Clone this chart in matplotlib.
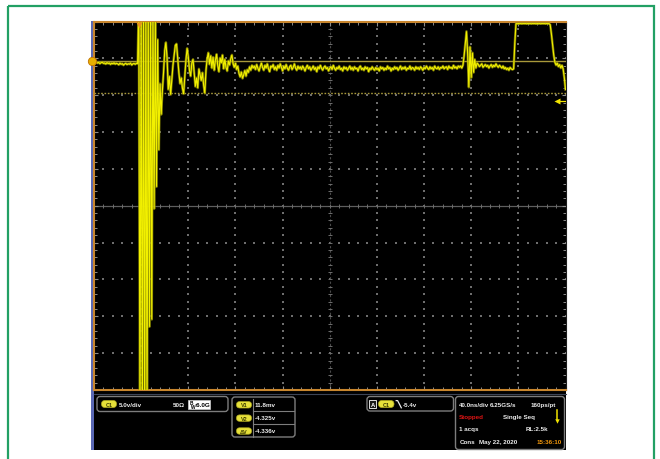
import numpy as np
import matplotlib
matplotlib.use("Agg")
import matplotlib.pyplot as plt
from matplotlib.patches import Rectangle, FancyBboxPatch

# ---------------- data ----------------
dt_ns = 1.0            # resampled trace step, ns
ns_per_div = 40.0
v_per_div = 5.0
v_top = 5.43           # screen top in volts (ground 1.09 div below top)

pre_trigger = [-0.10, -0.18, -0.05, -0.22, -0.12, -0.30, -0.15, -0.08, -0.26, -0.20,
               -0.35, -0.14, -0.28, -0.19, -0.40, -0.22, -0.31, -0.17, -0.36, -0.24,
               -0.30, -0.45, -0.21, -0.38, -0.27, -0.50, -0.33, -0.24, -0.42, -0.29,
               -0.37, -0.20, -0.48, -0.31, -0.26, -0.39, -0.22, -0.30]
burst = [8, -50, 8, -50, 8, -50, 8, -50, 8, -36, 8, -35, 7, -20, 6, -17, 3, -12]
ringing = [-3.0, -7.2, -4.0, -1.5, 1.5, 2.6, 0.5, -3.8, -2.0, -4.5,
           -2.5, -0.5, 0.8, 2.2, 2.4, 0.5, -1.5, -3.0, -2.2, -3.6,
           -4.4, -2.0, 0.2, 1.8, 0.6, -1.2, -2.0, -0.2, 0.3, -1.5,
           -3.4, -2.2, -3.6, -1.0, -1.8, -2.6, -1.5, -3.2, -4.3, -1.2,
           0.4, 1.2, -0.4, 0.8, -0.9, 0.6, -1.2, 0.2, 1.0, -0.6,
           -1.4, 0.5, -0.2, 0.9, -1.0, 0.3, -0.8, -1.3, 0.1, -0.5,
           0.4, 0.9, -0.3, -0.8, -0.2, -1.1, -0.6, -1.6, -2.1, -1.4,
           -2.3, -1.8, -1.2, -2.0, -1.1, -1.5, -0.7, -1.2, -0.5, -0.9]
settle = [-0.6, -1.1, -0.4, -0.9, -1.3, -0.7, -0.2, -0.8, -1.2, -0.5, -0.9, -0.3, -1.0, -1.4, -0.6, -0.8, -0.4, -1.1, -0.7, -1.2,
          -0.5, -0.9, -0.3, -0.8, -1.3, -0.6, -1.0, -0.4, -0.9, -1.2, -0.7, -0.5, -1.1, -0.8, -0.3, -0.9, -1.2, -0.6, -1.0, -0.7,
          -1.1, -0.6, -0.9, -1.3, -0.8, -0.5, -1.0, -0.7, -1.2, -0.9, -0.6, -1.1, -0.8, -1.4, -0.7, -1.0, -0.5, -0.9, -1.2, -0.8,
          -0.6, -1.0, -0.8, -1.3, -0.9, -0.7, -1.1, -0.5, -0.9, -1.2, -0.8, -1.0, -0.6, -1.1, -0.9, -1.3, -0.7, -1.0, -0.8, -1.2,
          -0.9, -0.6, -1.1, -0.8, -1.2, -0.7, -1.0, -0.9, -1.3, -0.8, -0.6, -1.1, -0.9, -1.2, -0.7, -1.0, -0.8, -1.4, -0.9, -1.1,
          -0.7, -1.0, -1.2, -0.8, -1.1, -0.9, -1.3, -0.7, -1.0, -0.8, -1.2, -0.9, -1.1, -0.6, -1.0, -0.8, -1.3, -0.9, -1.1, -0.7,
          -1.0, -0.8, -1.2, -0.9, -0.6, -1.1, -0.8, -1.0, -0.7, -1.2, -0.9, -1.0, -0.6, -1.1, -0.8, -0.9, -1.2, -0.7, -1.0, -0.8,
          -1.1, -0.7, -0.9, -1.2, -0.8, -1.0, -0.6, -0.9, -1.1, -0.7, -1.0, -0.8, -1.2, -0.6, -0.9, -1.0, -0.7, -1.1, -0.8, -0.9,
          -0.6, -1.0, -0.8, -0.7, -1.1, -0.6, -0.9, -0.8, -1.0, -0.5, -0.9, -0.7, -1.0, -0.6, -0.8]
glitch = [-0.6, -0.9, -0.5, 0.8, 2.5, 4.1, 1.0, -3.5, 2.0, -2.2, 1.2, -1.5, 0.3, -0.9, -0.2]
plateau = [-0.4, -0.7, -0.5, -0.3, -0.8, -0.6, -0.4, -0.7, -0.5, -0.9,
           -0.6, -0.4, -0.8, -0.5, -0.7, -0.3, -0.6, -0.8, -0.5, -0.7,
           -0.9, -0.6, -1.0, -0.8, -1.1, -0.9, -1.2, -0.8, -1.0]
edge = [-1.1, -1.0, 2.5,
        5.15, 5.12, 5.15, 5.13, 5.15, 5.12, 5.15, 5.14, 5.15, 5.12,
        5.15, 5.13, 5.15, 5.12, 5.15, 5.14, 5.15, 5.12, 5.15, 5.13,
        5.15, 5.12, 5.15, 5.14, 5.15, 5.12, 5.15, 5.13, 5.15,
        5.0, 3.8, 2.3, 0.9, -0.1, -0.5, -0.2, -0.7, -0.4, -0.9, -0.5, -1.0, -2.2, -3.8]

cursor_v1 = 0.0118
cursor_v2 = -4.325
trigger_level = -5.4
trigger_time_ns = 38.0

ch_labels = ["C1", "5.0v/div", "50\u03a9"]
cursor_labels = ["V1", "V2", "\u0394V"]
cursor_texts = ["11.8mv", "-4.325v", "-4.336v"]
time_texts = ["40.0ns/div", "6.25GS/s", "160ps/pt"]

volts = np.array(pre_trigger + burst + ringing + settle + glitch + plateau + edge, float)
t_ns = np.arange(volts.size) * dt_ns

# ---------------- figure ----------------
W, H = 660, 460
plt.rcParams["font.family"] = ["Liberation Sans Narrow", "Liberation Sans", "DejaVu Sans"]
fig = plt.figure(figsize=(W / 100, H / 100), dpi=100)
fig.patch.set_facecolor("white")

bg = fig.add_axes([0, 0, 1, 1], zorder=0)
bg.set_xlim(0, W)
bg.set_ylim(H, 0)
bg.axis("off")

# green frame
bg.add_patch(Rectangle((8, 7), 646, 480, fill=False, ec="#22a064", lw=1.6))
# scope screen
bg.add_patch(Rectangle((91, 22), 475, 429, fc="black", ec="none"))
bg.add_patch(Rectangle((90.7, 22), 2.8, 429, fc="#5a68b4", ec="none"))
bg.plot([94, 566], [394.6, 394.6], color="#3c4456", lw=0.8)

TXT = dict(color="#ececec", fontsize=4.5, fontweight="bold", va="center", ha="left")
PILL_FC = "#e6e03a"


def box(x, y, w, h):
    bg.add_patch(FancyBboxPatch((x, y), w, h, boxstyle="round,pad=0,rounding_size=3",
                                fc="black", ec="#7d7d7d", lw=1.0))


def pill(x, y, w, h, label):
    bg.add_patch(FancyBboxPatch((x, y), w, h, boxstyle="round,pad=0,rounding_size=%.1f" % (h / 2),
                                fc=PILL_FC, ec="#b0aa20", lw=0.5))
    bg.text(x + w / 2, y + h / 2 + 0.2, label, color="#3c3c00", fontsize=4.0,
            fontweight="bold", ha="center", va="center")


# channel box
box(97, 397.5, 131, 15)
pill(101.5, 401.5, 15, 7, ch_labels[0])
bg.text(118.5, 405.2, ch_labels[1], **TXT)
bg.text(172.5, 405.2, ch_labels[2], **TXT)
bg.add_patch(Rectangle((187.5, 401), 22.5, 8.5, fc="white", ec="#cccccc", lw=0.5))
bg.text(189.2, 403.4, "B", color="black", fontsize=3.4, fontweight="bold", ha="left", va="center")
bg.text(190.6, 407.6, "W", color="black", fontsize=3.4, fontweight="bold", ha="left", va="center")
bg.text(194.3, 405.2, ":6.0G", color="black", fontsize=4.5, fontweight="bold", ha="left", va="center")

# cursor box
box(232, 398, 63, 40)
rows_y = [405.6, 418.9, 431.8]
for yy, lab, val in zip(rows_y, cursor_labels, cursor_texts):
    pill(236.5, yy - 3, 15, 6.4, lab)
    bg.text(255, yy, val, **TXT)
bg.plot([253.3, 253.3], [399.5, 437.5], color="#7d7d7d", lw=0.8)
bg.plot([253.3, 294], [412, 412], color="#7d7d7d", lw=0.8)
bg.plot([253.3, 294], [425.2, 425.2], color="#7d7d7d", lw=0.8)

# trigger box
box(367, 397.5, 86.5, 14.5)
bg.add_patch(Rectangle((369.3, 401.2), 7, 8, fc="#1a1a1a", ec="#e0e0e0", lw=0.7))
bg.text(372.8, 405.4, "A", color="white", fontsize=4.2, fontweight="bold", ha="center", va="center")
pill(378.5, 401.5, 15.5, 7, ch_labels[0])
bg.plot([396.2, 397.6, 401.3], [401.6, 401.6, 408.8], color="#ececec", lw=0.9)
bg.text(402.8, 405.2, "%.1fv" % trigger_level, **TXT)

# timebase / acquisition box
box(455.5, 397.5, 109, 53)
bg.text(459, 405.2, time_texts[0], **TXT)
bg.text(490, 405.2, time_texts[1], **TXT)
bg.text(531, 405.2, time_texts[2], **TXT)
bg.text(459.3, 417.6, "Stopped", **{**TXT, "color": "#e01414"})
bg.text(502.7, 417.6, "Single Seq", **TXT)
bg.plot([556.6, 556.6], [410.5, 421], color="#f2e400", lw=1.1)
bg.plot([556.6], [422.3], marker="v", ms=3.2, color="#f2e400", mec="none")
bg.text(459.3, 429.6, "1 acqs", **TXT)
bg.text(525.3, 429.6, "RL:2.5k", **TXT)
bg.text(459.3, 442.3, "Cons", **TXT)
bg.text(479.3, 442.3, "May 22, 2020", **TXT)
bg.text(536.8, 442.3, "15:36:10", **{**TXT, "color": "#f0960c"})

# ---------------- graticule ----------------
x0, x1, y0, y1 = 94.0, 565.5, 22.5, 391.0
ax = fig.add_axes([x0 / W, 1 - y1 / H, (x1 - x0) / W, (y1 - y0) / H], zorder=2)
ax.set_facecolor("black")
t_max = 10 * ns_per_div
v_bot = v_top - 10 * v_per_div
ax.set_xlim(0, t_max)
ax.set_ylim(v_bot, v_top)

orange = "#c8862e"
for s in ["top", "left", "bottom"]:
    ax.spines[s].set_color(orange)
    ax.spines[s].set_linewidth(1.5)
ax.spines["right"].set_color("#1a1a1a")

xmaj = np.linspace(0, t_max, 11)
ymaj = np.linspace(v_bot, v_top, 11)
xmin = np.linspace(0, t_max, 51)
ymin = np.linspace(v_bot, v_top, 51)
ax.set_xticks(xmaj)
ax.set_yticks(ymaj)
ax.set_xticks(xmin, minor=True)
ax.set_yticks(ymin, minor=True)
ax.tick_params(which="both", direction="in", top=True, right=True, colors="#8c8c8c",
               labelbottom=False, labelleft=False)
ax.tick_params(which="major", length=3.2, width=0.8)
ax.tick_params(which="minor", length=2.2, width=0.7)

# dotted grid
gc = "#6e6e6e"
for xv in xmaj[1:-1]:
    if abs(xv - t_max / 2) > 1e-6:
        ax.scatter(np.full(ymin.size, xv), ymin, s=0.8, marker="s", color=gc, linewidths=0, zorder=1)
for yv in ymaj[1:-1]:
    if abs(yv - (v_bot + v_top) / 2) > 1e-6:
        ax.scatter(xmin, np.full(xmin.size, yv), s=0.8, marker="s", color=gc, linewidths=0, zorder=1)

# center cross with ticks
yc = (v_bot + v_top) / 2
ax.plot([0, t_max], [yc, yc], color="#5e5e5e", lw=0.9, zorder=1)
ax.plot([t_max / 2, t_max / 2], [v_bot, v_top], color="#4a4a4a", lw=0.8, ls=(0, (2, 2)), zorder=1)
ax.plot(xmin, np.full(xmin.size, yc), ls="none", marker="|", ms=3.2, mew=0.7, color="#6e6e6e", zorder=1)
ax.plot(np.full(ymin.size, t_max / 2), ymin, ls="none", marker="_", ms=3.2, mew=0.7, color="#6e6e6e", zorder=1)

# cursors
ax.axhline(cursor_v1, color="#a8983a", lw=1.0, zorder=3)
ax.axhline(cursor_v2, color="#a8983a", lw=1.0, ls=(0, (1.2, 1.2)), zorder=3)

# waveform: olive glow underneath, bright trace on top
ax.plot(t_ns, volts, color="#8c8a00", lw=1.8, zorder=4, alpha=0.8)
ax.plot(t_ns, volts, color="#f2f000", lw=0.8, zorder=5, solid_joinstyle="miter")

# markers: trigger position, trigger level, ground reference
ax.plot([trigger_time_ns], [v_top - 0.5], marker="v", ms=4.5, color="#e8901e", mec="none",
        clip_on=False, zorder=6)
ax.plot([t_max - 6, t_max - 0.5], [trigger_level, trigger_level], color="#f2e400", lw=0.9, zorder=6)
ax.plot([t_max - 7], [trigger_level], marker="<", ms=4, color="#f2e400", mec="none", zorder=6)
ax.plot([-1.5], [cursor_v1], marker="o", ms=6, color="#e8b000", mec="#c07000", mew=0.6,
        clip_on=False, zorder=6)

fig.savefig("out.png", dpi=100, facecolor="white")
